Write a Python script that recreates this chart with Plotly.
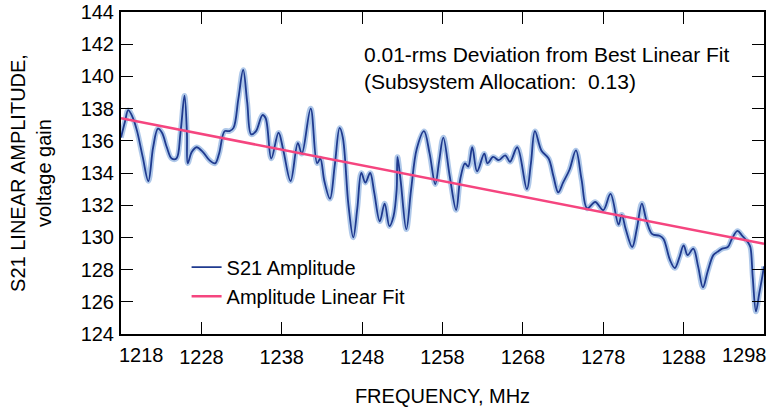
import plotly.graph_objects as go

# ---- data ----
freq_mhz = [1218.0, 1218.5, 1218.9, 1219.5, 1220.0, 1220.7, 1221.4, 1222.0, 1222.6, 1223.1,
            1223.7, 1224.3, 1224.9, 1225.4, 1225.9, 1226.2, 1226.3, 1226.8, 1227.4, 1228.2,
            1229.0, 1229.7, 1230.2, 1230.9, 1231.5, 1232.0, 1232.6, 1233.2, 1233.7, 1234.2,
            1234.8, 1235.6, 1236.0, 1236.7, 1237.6, 1238.2, 1239.1, 1240.0, 1240.5, 1241.6,
            1242.4, 1242.8, 1243.3, 1244.0, 1244.6, 1245.2, 1245.6, 1246.3, 1246.9, 1247.4,
            1247.9, 1248.4, 1249.0, 1249.5, 1250.2, 1250.8, 1251.4, 1251.9, 1252.3, 1252.4,
            1252.8, 1253.5, 1254.1, 1254.8, 1255.7, 1256.4, 1257.1, 1257.6, 1258.1, 1258.9,
            1259.7, 1260.2, 1260.8, 1261.2, 1261.7, 1262.3, 1263.2, 1263.6, 1264.3, 1265.0,
            1265.8, 1266.4, 1267.3, 1268.5, 1269.0, 1269.5, 1270.3, 1271.2, 1271.8, 1272.4,
            1273.0, 1273.8, 1274.6, 1275.3, 1276.0, 1277.0, 1278.0, 1278.9, 1279.9, 1280.3,
            1280.8, 1281.6, 1282.2, 1282.8, 1283.4, 1284.1, 1285.0, 1285.5, 1286.3, 1286.9,
            1287.5, 1288.0, 1288.5, 1289.2, 1289.8, 1290.4, 1291.0, 1291.7, 1292.2, 1292.8,
            1293.5, 1294.0, 1294.7, 1295.3, 1296.0, 1296.3, 1296.6, 1297.0, 1297.4, 1297.8,
            1298.0]
s21_amplitude = [136.2, 137.2, 137.9, 137.4, 136.6, 135.0, 133.5, 135.6, 136.75, 136.5,
                 135.6, 134.9, 134.9, 136.5, 138.8, 136.5, 134.6, 135.3, 135.6, 135.3,
                 134.8, 134.6, 135.2, 136.6, 136.6, 136.8, 138.6, 140.4, 138.4, 136.4,
                 136.6, 137.6, 137.4, 134.9, 136.5, 135.4, 133.5, 135.85, 135.2, 138.0,
                 134.6, 134.9, 133.5, 132.4, 134.5, 136.8, 136.2, 132.0, 130.0, 131.8,
                 134.0, 133.4, 134.0, 132.8, 131.0, 132.1, 130.7, 131.3, 133.0, 135.0,
                 133.5, 130.5, 133.0, 135.5, 136.6, 135.2, 133.3, 134.8, 136.2, 133.8,
                 131.7, 133.6, 134.6, 134.4, 135.6, 134.1, 135.2, 134.6, 135.0, 134.8,
                 135.1, 134.7, 135.6, 133.0, 134.6, 136.6, 135.4, 134.9, 133.8, 132.8,
                 133.4, 134.2, 135.4, 133.6, 131.8, 132.2, 131.7, 132.7, 130.8, 131.4,
                 130.5, 129.4, 130.6, 132.1, 131.0, 130.2, 130.1, 129.9, 128.6, 128.1,
                 128.8, 129.5, 128.9, 129.3, 128.2, 126.9, 127.9, 128.9, 129.1, 129.3,
                 129.4, 129.9, 130.4, 130.1, 129.7, 129.4, 127.5, 125.4, 126.5, 127.6,
                 128.2]
fit_freq = [1218, 1298]
fit_amplitude = [137.4, 129.6]

x_tick_vals = [1228, 1238, 1248, 1258, 1268, 1278, 1288]
x_end_labels = [1218, 1298]
y_tick_vals = [124, 126, 128, 130, 132, 134, 136, 138, 140, 142, 144]

FONT = "Arial, Liberation Sans, Helvetica, sans-serif"
FS = 20

fig = go.Figure()
# soft halo of the measured trace
fig.add_trace(go.Scatter(x=freq_mhz, y=s21_amplitude, mode="lines",
                         line=dict(color="rgba(110,155,215,0.55)", width=5.5, shape="spline", smoothing=1.0),
                         showlegend=False, hoverinfo="skip"))
fig.add_trace(go.Scatter(x=freq_mhz, y=s21_amplitude, mode="lines", name="S21 Amplitude",
                         legendgroup="a",
                         line=dict(color="#1f3a8f", width=1.8, shape="spline", smoothing=1.0)))
fig.add_trace(go.Scatter(x=fit_freq, y=fit_amplitude, mode="lines", name="Amplitude Linear Fit",
                         legendgroup="b",
                         line=dict(color="#f5457f", width=2.5)))

axis_common = dict(showline=True, linecolor="black", linewidth=2, mirror="ticks",
                   ticks="inside", ticklen=12, tickwidth=1.3, tickcolor="black",
                   showgrid=False, zeroline=False, automargin=False,
                   tickfont=dict(family=FONT, size=FS, color="black"))

fig.update_xaxes(range=[1218, 1298], tickvals=x_tick_vals,
                 ticktext=[str(v) for v in x_tick_vals], ticklabelstandoff=4,
                 title=dict(text="FREQUENCY, MHz", font=dict(family=FONT, size=FS, color="black"),
                            standoff=22),
                 **axis_common)
fig.update_yaxes(range=[124, 144], tickvals=y_tick_vals,
                 ticktext=[str(v) for v in y_tick_vals], ticklabelstandoff=1,
                 title=dict(text="S21 LINEAR AMPLITUDE,<br>voltage gain",
                            font=dict(family=FONT, size=FS, color="black"), standoff=24),
                 **axis_common)

annotations = [
    dict(x=1248, y=142.2, xref="x", yref="y", xanchor="left", yanchor="top", align="left",
         showarrow=False, text="0.01-rms Deviation from Best Linear Fit<br>(Subsystem Allocation:  0.13)",
         font=dict(family=FONT, size=21, color="black")),
]
for v, anchor, shift in zip(x_end_labels, ["left", "right"], [-4, 5]):
    annotations.append(dict(x=v, y=0, xref="x", yref="paper", xanchor=anchor, yanchor="top",
                            yshift=-8, xshift=shift, showarrow=False, text=str(v),
                            font=dict(family=FONT, size=FS, color="black")))

fig.update_layout(
    width=772, height=411,
    margin=dict(l=121, r=8, t=12, b=77),
    paper_bgcolor="white", plot_bgcolor="white",
    font=dict(family=FONT, size=FS, color="black"),
    showlegend=True,
    legend=dict(x=0.102, y=0.268, xanchor="left", yanchor="top", bgcolor="rgba(0,0,0,0)",
                font=dict(family=FONT, size=FS, color="black"), tracegroupgap=4,
                traceorder="normal"),
    annotations=annotations,
)

fig.write_html("out.html", config={"displayModeBar": False},
               post_script="document.body.style.margin='0px';")
